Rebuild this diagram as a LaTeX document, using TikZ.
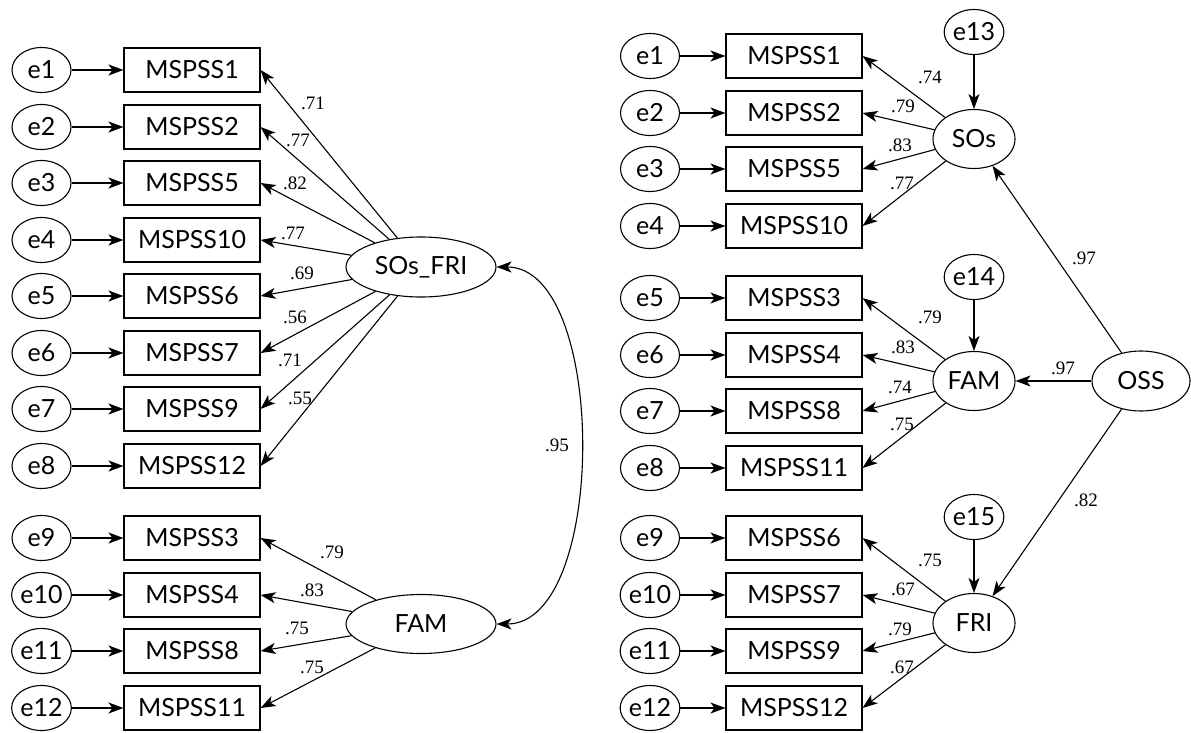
\documentclass[tikz,border=0pt]{standalone}
\usepackage{fontspec}
\setmainfont{Lato}
\newfontfamily\numfont{Liberation Serif}
\usetikzlibrary{shapes.geometric}
\usetikzlibrary{arrows.meta}

\begin{document}
\begin{tikzpicture}[x=1pt,y=-1pt,
			err/.style={draw,ellipse,minimum width=59pt,minimum height=45pt,inner sep=0pt,line width=1.1pt,font=\fontsize{25}{25}\selectfont},
			obs/.style={draw,rectangle,minimum width=136pt,minimum height=44pt,inner sep=0pt,line width=1.1pt,font=\fontsize{25}{25}\selectfont},
			lat/.style={draw,ellipse,inner sep=0pt,line width=1.1pt,font=\fontsize{25}{25}\selectfont},
			lbl/.style={inner sep=0pt,font=\numfont\fontsize{19}{19}\selectfont},
			arr/.style={-{Stealth[length=15pt,width=11pt,inset=4pt]},line width=1.1pt},
			arrboth/.style={{Stealth[length=15pt,width=11pt,inset=4pt]}-{Stealth[length=15pt,width=11pt,inset=4pt]},line width=1.1pt}]
			\useasboundingbox (0,0) rectangle (1191,733);
			
			% left model
			\foreach \y/\t [count=\i] in {70/1,127/2,183/5,240/10,296/6,353/7,409/9,466/12,538/3,595/4,651/8,708/11}
			{
				\node[err] (le\i) at (41.5,\y) {e\i};
				\node[obs] (lx\i) at (192,\y) {MSPSS\t};
				\draw[arr] (le\i) -- (lx\i);
			}
			\node[lat,minimum width=150pt,minimum height=60pt] (sf) at (421,267) {SOs\_FRI};
			\node[lat,minimum width=150pt,minimum height=59pt] (lfam) at (421,624) {FAM};
			\foreach \i in {1,...,8}
				\draw[arr] (sf) -- (lx\i.east);
			\foreach \i in {9,...,12}
				\draw[arr] (lfam) -- (lx\i.east);
			\draw[arrboth] (sf.east) to[out=0, in=0, looseness=0.8] (lfam.east);
			
			\foreach \x/\y/\v [count=\i] in {313/103/.71,298/140/.77,295/183/.82,293/233/.77,302/273/.69,295/317/.56,290/360/.71,300/398/.55,332/552/.79,312/590/.83,297/628/.75,312/667/.75}
				\node[lbl] (lw\i) at (\x,\y) {\v};
			\node[lbl] (cov) at (557,445) {.95};
			
			% right model
			\foreach \y/\t [count=\i] in {56/1,113/2,169/5,226/10,298/3,355/4,411/8,468/11,538/6,595/7,651/9,708/12}
			{
				\node[err] (re\i) at (650,\y) {e\i};
				\node[obs] (rx\i) at (794,\y) {MSPSS\t};
				\draw[arr] (re\i) -- (rx\i);
			}
			\node[lat,minimum width=82pt,minimum height=59pt] (sos) at (974,139) {SOs};
			\node[lat,minimum width=82pt,minimum height=59pt] (rfam) at (974,381) {FAM};
			\node[lat,minimum width=82pt,minimum height=59pt] (fri) at (974,623) {FRI};
			\node[lat,minimum width=98pt,minimum height=60pt] (oss) at (1141,381) {OSS};
			\node[err] (e13) at (974,32) {e13};
			\node[err] (e14) at (974,277) {e14};
			\node[err] (e15) at (974,517) {e15};
			\draw[arr] (e13) -- (sos);
			\draw[arr] (e14) -- (rfam);
			\draw[arr] (e15) -- (fri);
			\foreach \i in {1,...,4}
				\draw[arr] (sos) -- (rx\i.east);
			\foreach \i in {5,...,8}
				\draw[arr] (rfam) -- (rx\i.east);
			\foreach \i in {9,...,12}
				\draw[arr] (fri) -- (rx\i.east);
			\draw[arr] (oss) -- (sos);
			\draw[arr] (oss) -- (rfam);
			\draw[arr] (oss) -- (fri);
			
			\foreach \x/\y/\v [count=\i] in {930/77/.74,903/106/.79,900/145/.83,902/183/.77,930/317/.79,903/347/.83,900/387/.74,902/424/.75,930/560/.75,903/589/.67,900/629/.79,902/667/.67}
				\node[lbl] (rw\i) at (\x,\y) {\v};
			\node[lbl] (g1) at (1084,258) {.97};
			\node[lbl] (g2) at (1063,368) {.97};
			\node[lbl] (g3) at (1086,500) {.82};
		\end{tikzpicture}
\end{document}
